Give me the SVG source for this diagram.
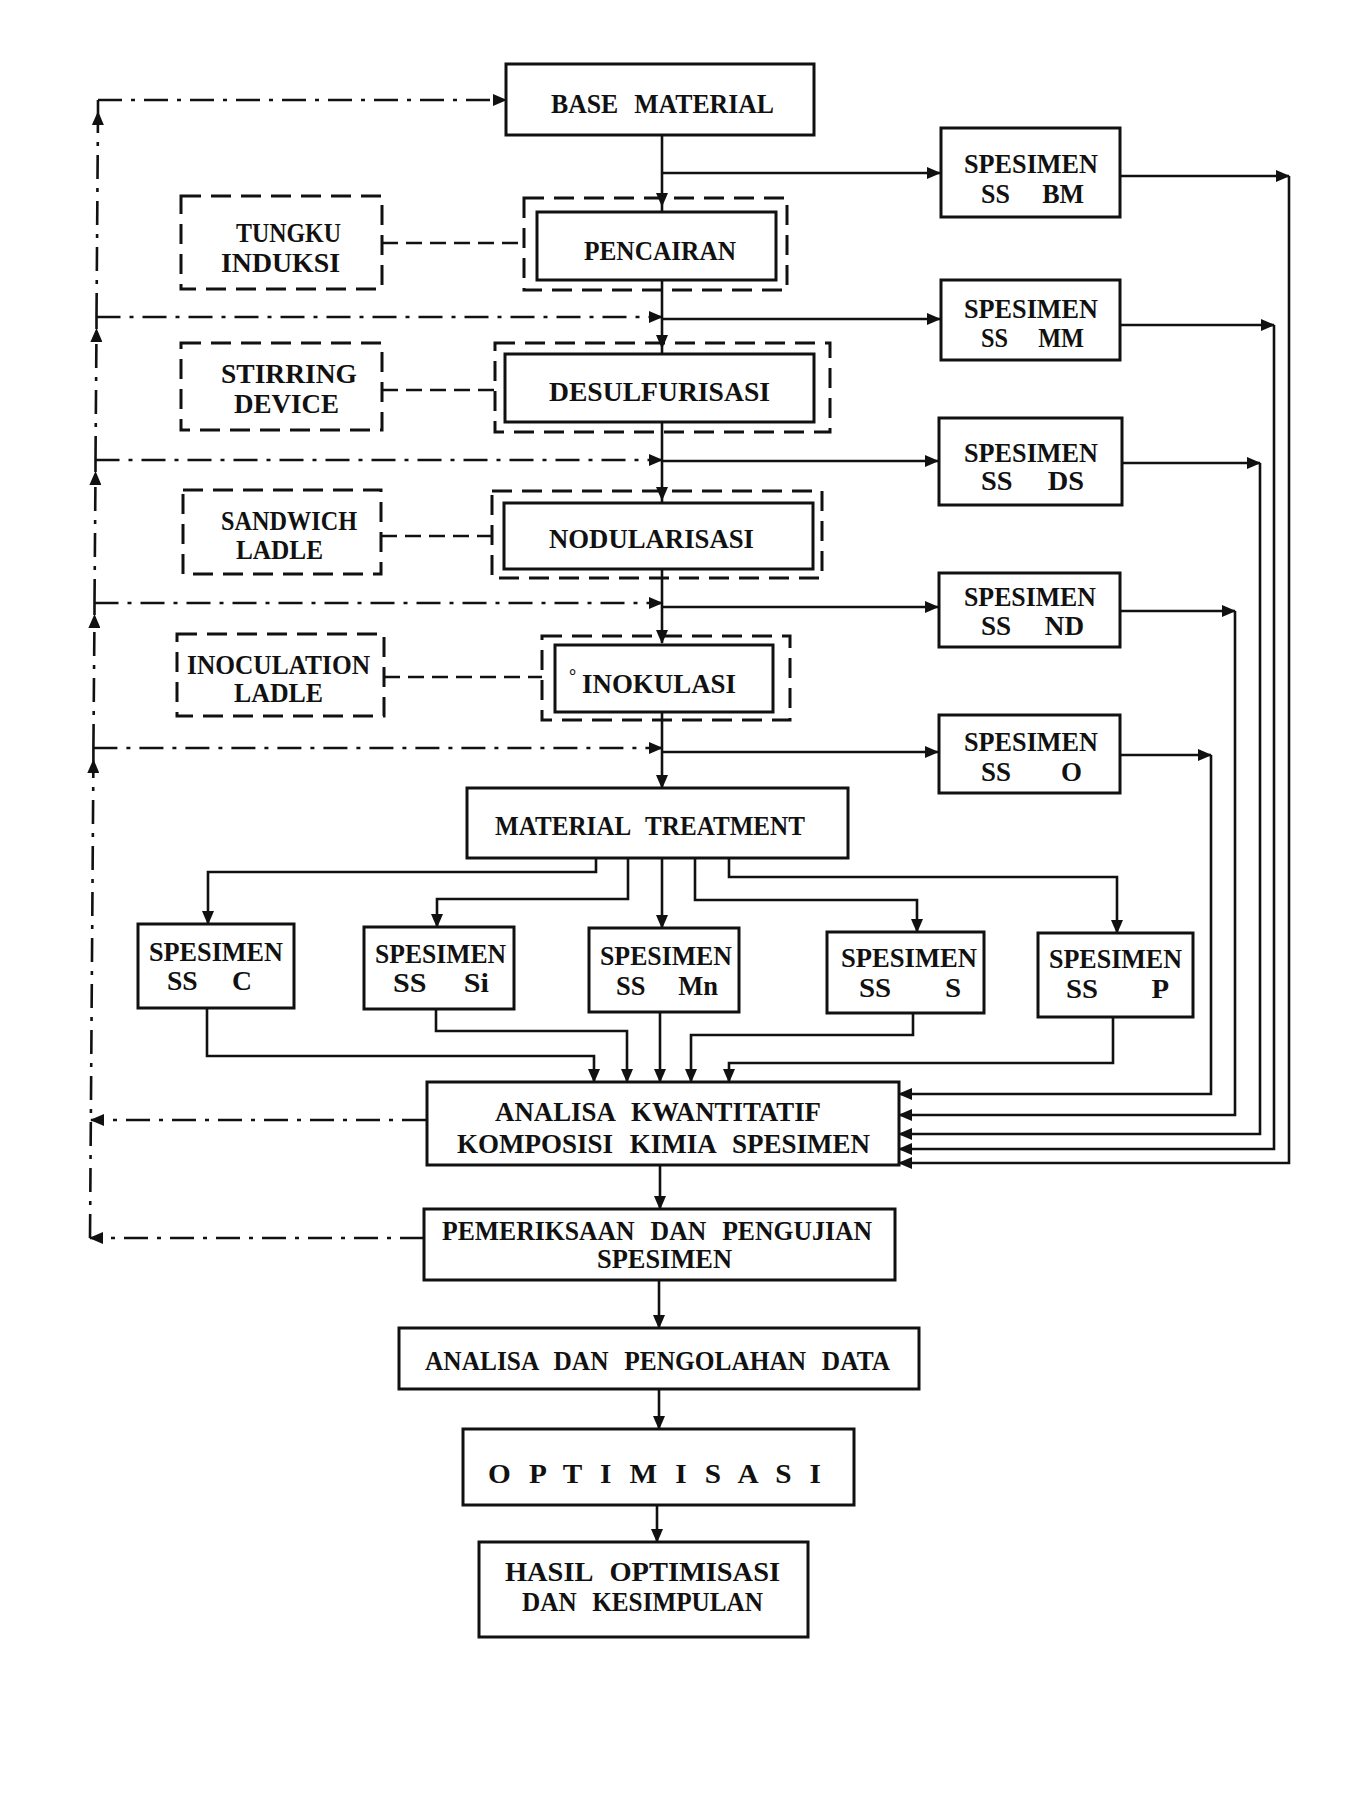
<svg xmlns="http://www.w3.org/2000/svg" width="1369" height="1795" viewBox="0 0 1369 1795">
<defs>
<marker id="ah" markerUnits="userSpaceOnUse" markerWidth="14" markerHeight="12" refX="13" refY="6" orient="auto"><path d="M0,0 L14,6 L0,12 z" fill="#111"/></marker>
<style>
.box{fill:none;stroke:#111;stroke-width:3}
.dbox{fill:none;stroke:#111;stroke-width:3;stroke-dasharray:20 10}
.ln{fill:none;stroke:#111;stroke-width:2.6}
.dl{fill:none;stroke:#111;stroke-width:2.6;stroke-dasharray:16 8}
.dd{fill:none;stroke:#111;stroke-width:2.6;stroke-dasharray:24 9 4 9}
text{font-family:"Liberation Serif","Times New Roman",serif;font-weight:bold;font-size:27px;word-spacing:10px;fill:#111;white-space:pre}
.deg{font-size:18px}
</style>
</defs>
<rect width="1369" height="1795" fill="#fff"/>

<g id="connectors">
<path class="ln" d="M662,135 V206" marker-end="url(#ah)"/>
<path class="ln" d="M662,206 V212"/>
<path class="ln" d="M662,280 V348" marker-end="url(#ah)"/>
<path class="ln" d="M662,348 V354"/>
<path class="ln" d="M662,422 V500" marker-end="url(#ah)"/>
<path class="ln" d="M662,500 V504"/>
<path class="ln" d="M662,569 V643" marker-end="url(#ah)"/>
<path class="ln" d="M662,713 V788" marker-end="url(#ah)"/>
<path class="ln" d="M662,173 H940" marker-end="url(#ah)"/>
<path class="ln" d="M662,319 H940" marker-end="url(#ah)"/>
<path class="ln" d="M662,461 H938" marker-end="url(#ah)"/>
<path class="ln" d="M662,607 H938" marker-end="url(#ah)"/>
<path class="ln" d="M662,752 H938" marker-end="url(#ah)"/>
<path class="ln" d="M1120,176 H1289" marker-end="url(#ah)"/>
<path class="ln" d="M1289,176 V1163 H899" marker-end="url(#ah)"/>
<path class="ln" d="M1120,325 H1274" marker-end="url(#ah)"/>
<path class="ln" d="M1274,325 V1149 H899" marker-end="url(#ah)"/>
<path class="ln" d="M1122,463 H1260" marker-end="url(#ah)"/>
<path class="ln" d="M1260,463 V1134 H899" marker-end="url(#ah)"/>
<path class="ln" d="M1120,611 H1235" marker-end="url(#ah)"/>
<path class="ln" d="M1235,611 V1115 H899" marker-end="url(#ah)"/>
<path class="ln" d="M1120,755 H1211" marker-end="url(#ah)"/>
<path class="ln" d="M1211,755 V1094 H899" marker-end="url(#ah)"/>
<path class="ln" d="M596,858 V872 H208 V924" marker-end="url(#ah)"/>
<path class="ln" d="M628,858 V899 H437 V927" marker-end="url(#ah)"/>
<path class="ln" d="M662,858 V928" marker-end="url(#ah)"/>
<path class="ln" d="M695,858 V900 H917 V932" marker-end="url(#ah)"/>
<path class="ln" d="M729,858 V877 H1117 V933" marker-end="url(#ah)"/>
<path class="ln" d="M207,1008 V1056 H594 V1082" marker-end="url(#ah)"/>
<path class="ln" d="M436,1009 V1031 H627 V1082" marker-end="url(#ah)"/>
<path class="ln" d="M660,1012 V1082" marker-end="url(#ah)"/>
<path class="ln" d="M913,1013 V1035 H691 V1082" marker-end="url(#ah)"/>
<path class="ln" d="M1113,1017 V1063 H729 V1082" marker-end="url(#ah)"/>
<path class="ln" d="M660,1165 V1209" marker-end="url(#ah)"/>
<path class="ln" d="M659,1280 V1328" marker-end="url(#ah)"/>
<path class="ln" d="M659,1389 V1429" marker-end="url(#ah)"/>
<path class="ln" d="M657,1505 V1542" marker-end="url(#ah)"/>
<path class="dl" d="M382,243 H524"/>
<path class="dl" d="M382,390 H495"/>
<path class="dl" d="M381,536 H492"/>
<path class="dl" d="M384,677 H542"/>
<path class="dd" d="M90,1238 L93.4,760" marker-end="url(#ah)"/>
<path class="dd" d="M93.4,748 L94.5,615" marker-end="url(#ah)"/>
<path class="dd" d="M94.5,603 L95.5,472" marker-end="url(#ah)"/>
<path class="dd" d="M95.5,460 L96.5,329" marker-end="url(#ah)"/>
<path class="dd" d="M96.5,317 L98,112" marker-end="url(#ah)"/>
<path class="ln" d="M93.4,760 V748 M94.5,615 V603 M95.5,472 V460 M96.5,329 V317 M98,112 V100"/>
<path class="dd" d="M98,100 H506" marker-end="url(#ah)"/>
<path class="dd" d="M96.5,317 H662" marker-end="url(#ah)"/>
<path class="dd" d="M95.5,460 H662" marker-end="url(#ah)"/>
<path class="dd" d="M94.5,603 H662" marker-end="url(#ah)"/>
<path class="dd" d="M93.4,748 H662" marker-end="url(#ah)"/>
<path class="dd" d="M426,1120 H91" marker-end="url(#ah)"/>
<path class="dd" d="M424,1238 H90" marker-end="url(#ah)"/>
</g>

<g id="base-material">
<rect class="box" x="506" y="64" width="308" height="71"/>
<text x="551" y="113" textLength="223" lengthAdjust="spacingAndGlyphs">BASE MATERIAL</text>
</g>

<g id="pencairan">
<rect class="dbox" x="524" y="198" width="263" height="92"/>
<rect class="box" x="537" y="212" width="239" height="68"/>
<text x="584" y="260" textLength="152" lengthAdjust="spacingAndGlyphs">PENCAIRAN</text>
</g>

<g id="tungku-induksi">
<rect class="dbox" x="181" y="196" width="201" height="93"/>
<text x="236" y="242" textLength="105" lengthAdjust="spacingAndGlyphs">TUNGKU</text>
<text x="221" y="272" textLength="119" lengthAdjust="spacingAndGlyphs">INDUKSI</text>
</g>

<g id="desulfurisasi">
<rect class="dbox" x="495" y="343" width="335" height="89"/>
<rect class="box" x="505" y="354" width="309" height="68"/>
<text x="549" y="401" textLength="221" lengthAdjust="spacingAndGlyphs">DESULFURISASI</text>
</g>

<g id="stirring-device">
<rect class="dbox" x="181" y="343" width="201" height="87"/>
<text x="221" y="383" textLength="136" lengthAdjust="spacingAndGlyphs">STIRRING</text>
<text x="234" y="413" textLength="105" lengthAdjust="spacingAndGlyphs">DEVICE</text>
</g>

<g id="nodularisasi">
<rect class="dbox" x="492" y="491" width="330" height="87"/>
<rect class="box" x="504" y="503" width="309" height="66"/>
<text x="549" y="548" textLength="205" lengthAdjust="spacingAndGlyphs">NODULARISASI</text>
</g>

<g id="sandwich-ladle">
<rect class="dbox" x="183" y="490" width="198" height="84"/>
<text x="221" y="530" textLength="136" lengthAdjust="spacingAndGlyphs">SANDWICH</text>
<text x="236" y="559" textLength="87" lengthAdjust="spacingAndGlyphs">LADLE</text>
</g>

<g id="inokulasi">
<rect class="dbox" x="542" y="636" width="248" height="84"/>
<rect class="box" x="555" y="645" width="218" height="67"/>
<text class="deg" x="569" y="682">°</text>
<text x="582" y="693" textLength="154" lengthAdjust="spacingAndGlyphs">INOKULASI</text>
</g>

<g id="inoculation-ladle">
<rect class="dbox" x="177" y="634" width="207" height="82"/>
<text x="187" y="674" textLength="183" lengthAdjust="spacingAndGlyphs">INOCULATION</text>
<text x="234" y="702" textLength="89" lengthAdjust="spacingAndGlyphs">LADLE</text>
</g>

<g id="material-treatment">
<rect class="box" x="467" y="788" width="381" height="70"/>
<text x="495" y="835" textLength="310" lengthAdjust="spacingAndGlyphs">MATERIAL TREATMENT</text>
</g>

<g id="ss-bm">
<rect class="box" x="941" y="128" width="179" height="89"/>
<text x="964" y="173" textLength="134" lengthAdjust="spacingAndGlyphs">SPESIMEN</text>
<text x="981" y="203" textLength="103" lengthAdjust="spacingAndGlyphs">SS  BM</text>
</g>

<g id="ss-mm">
<rect class="box" x="941" y="280" width="179" height="80"/>
<text x="964" y="318" textLength="134" lengthAdjust="spacingAndGlyphs">SPESIMEN</text>
<text x="981" y="347" textLength="103" lengthAdjust="spacingAndGlyphs">SS  MM</text>
</g>

<g id="ss-ds">
<rect class="box" x="939" y="418" width="183" height="87"/>
<text x="964" y="462" textLength="134" lengthAdjust="spacingAndGlyphs">SPESIMEN</text>
<text x="981" y="490" textLength="103" lengthAdjust="spacingAndGlyphs">SS  DS</text>
</g>

<g id="ss-nd">
<rect class="box" x="939" y="573" width="181" height="74"/>
<text x="964" y="606" textLength="132" lengthAdjust="spacingAndGlyphs">SPESIMEN</text>
<text x="981" y="635" textLength="103" lengthAdjust="spacingAndGlyphs">SS  ND</text>
</g>

<g id="ss-o">
<rect class="box" x="939" y="715" width="181" height="78"/>
<text x="964" y="751" textLength="134" lengthAdjust="spacingAndGlyphs">SPESIMEN</text>
<text x="981" y="781" textLength="101" lengthAdjust="spacingAndGlyphs">SS   O</text>
</g>

<g id="ss-c">
<rect class="box" x="138" y="924" width="156" height="84"/>
<text x="149" y="961" textLength="134" lengthAdjust="spacingAndGlyphs">SPESIMEN</text>
<text x="167" y="990" textLength="85" lengthAdjust="spacingAndGlyphs">SS  C</text>
</g>

<g id="ss-si">
<rect class="box" x="364" y="927" width="150" height="82"/>
<text x="375" y="963" textLength="131" lengthAdjust="spacingAndGlyphs">SPESIMEN</text>
<text x="393" y="992" textLength="96" lengthAdjust="spacingAndGlyphs">SS  Si</text>
</g>

<g id="ss-mn">
<rect class="box" x="589" y="928" width="150" height="84"/>
<text x="600" y="965" textLength="132" lengthAdjust="spacingAndGlyphs">SPESIMEN</text>
<text x="616" y="995" textLength="102" lengthAdjust="spacingAndGlyphs">SS  Mn</text>
</g>

<g id="ss-s">
<rect class="box" x="827" y="932" width="157" height="81"/>
<text x="841" y="967" textLength="136" lengthAdjust="spacingAndGlyphs">SPESIMEN</text>
<text x="859" y="997" textLength="102" lengthAdjust="spacingAndGlyphs">SS   S</text>
</g>

<g id="ss-p">
<rect class="box" x="1038" y="933" width="155" height="84"/>
<text x="1049" y="968" textLength="133" lengthAdjust="spacingAndGlyphs">SPESIMEN</text>
<text x="1066" y="998" textLength="103" lengthAdjust="spacingAndGlyphs">SS   P</text>
</g>

<g id="analisa-kwantitatif">
<rect class="box" x="427" y="1082" width="472" height="83"/>
<text x="495" y="1121" textLength="326" lengthAdjust="spacingAndGlyphs">ANALISA KWANTITATIF</text>
<text x="457" y="1153" textLength="413" lengthAdjust="spacingAndGlyphs">KOMPOSISI KIMIA SPESIMEN</text>
</g>

<g id="pemeriksaan">
<rect class="box" x="424" y="1209" width="471" height="71"/>
<text x="442" y="1240" textLength="430" lengthAdjust="spacingAndGlyphs">PEMERIKSAAN DAN PENGUJIAN</text>
<text x="597" y="1268" textLength="135" lengthAdjust="spacingAndGlyphs">SPESIMEN</text>
</g>

<g id="analisa-data">
<rect class="box" x="399" y="1328" width="520" height="61"/>
<text x="425" y="1370" textLength="465" lengthAdjust="spacingAndGlyphs">ANALISA DAN PENGOLAHAN DATA</text>
</g>

<g id="optimisasi">
<rect class="box" x="463" y="1429" width="391" height="76"/>
<text x="488" y="1483" textLength="333" lengthAdjust="spacingAndGlyphs">O P T I M I S A S I</text>
</g>

<g id="hasil">
<rect class="box" x="479" y="1542" width="329" height="95"/>
<text x="505" y="1581" textLength="275" lengthAdjust="spacingAndGlyphs">HASIL OPTIMISASI</text>
<text x="522" y="1611" textLength="241" lengthAdjust="spacingAndGlyphs">DAN KESIMPULAN</text>
</g>
</svg>
